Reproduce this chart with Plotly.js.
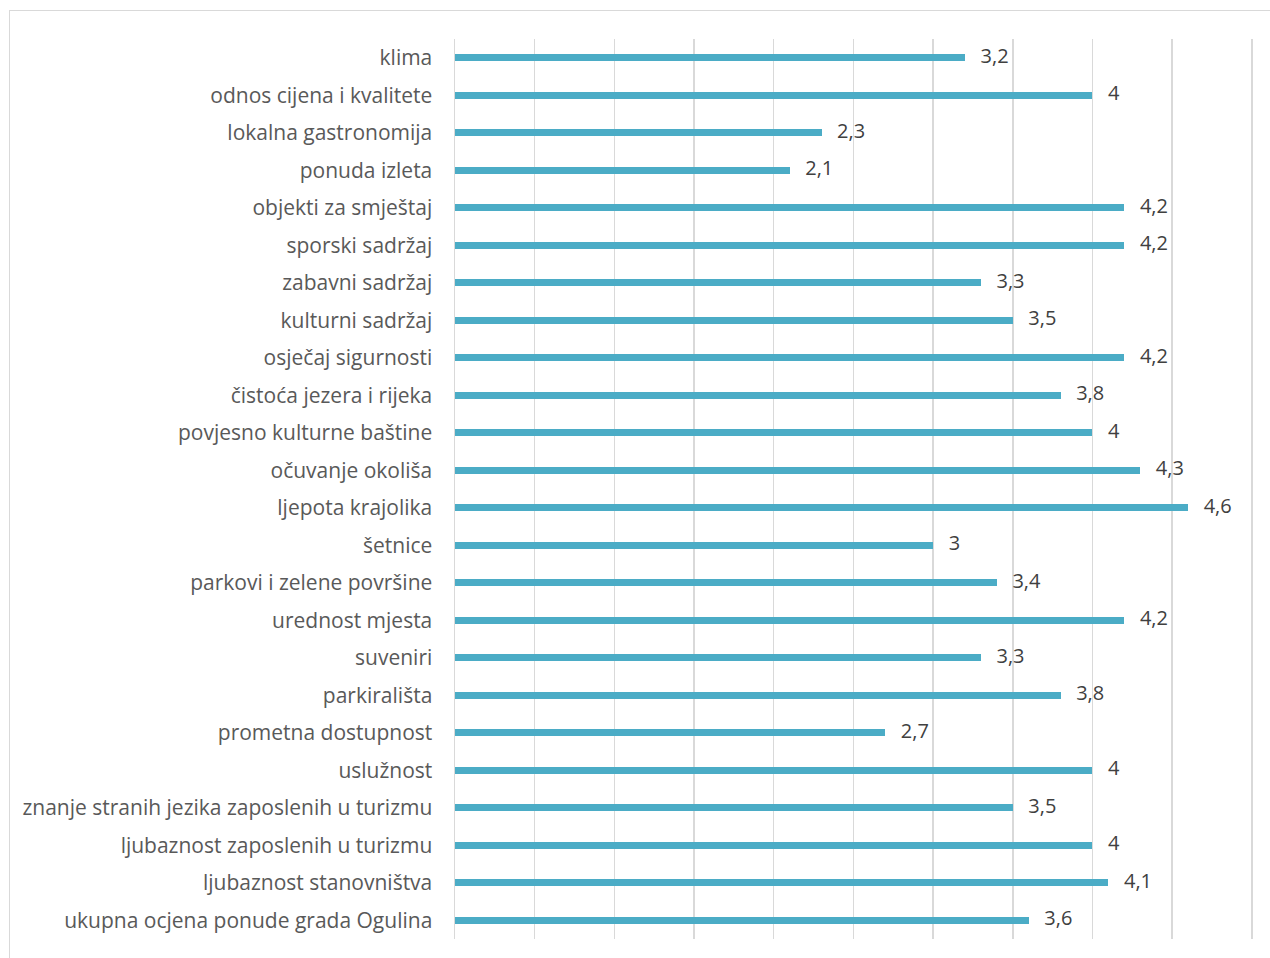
<!DOCTYPE html>
<html>
<head>
<meta charset="utf-8">
<script src="https://cdn.plot.ly/plotly-3.0.1.min.js"></script>
<style>
html,body{margin:0;padding:0;background:#fff;}
#wrap{position:relative;width:1270px;height:958px;}
#chart{width:1270px;height:958px;}
#frame{position:absolute;left:9px;top:10px;width:1270px;height:960px;border:1px solid #d9d9d9;pointer-events:none;}
</style>
</head>
<body>
<div id="wrap"><div id="chart"></div><div id="frame"></div></div>
<script>
const categories = [
  "klima",
  "odnos cijena i kvalitete",
  "lokalna gastronomija",
  "ponuda izleta",
  "objekti za smještaj",
  "sporski sadržaj",
  "zabavni sadržaj",
  "kulturni sadržaj",
  "osječaj sigurnosti",
  "čistoća jezera i rijeka",
  "povjesno kulturne baštine",
  "očuvanje okoliša",
  "ljepota krajolika",
  "šetnice",
  "parkovi i zelene površine",
  "urednost mjesta",
  "suveniri",
  "parkirališta",
  "prometna dostupnost",
  "uslužnost",
  "znanje stranih jezika zaposlenih u turizmu",
  "ljubaznost zaposlenih u turizmu",
  "ljubaznost stanovništva",
  "ukupna ocjena ponude grada Ogulina"
];
const values = [3.2, 4, 2.3, 2.1, 4.2, 4.2, 3.3, 3.5, 4.2, 3.8, 4, 4.3, 4.6, 3, 3.4, 4.2, 3.3, 3.8, 2.7, 4, 3.5, 4, 4.1, 3.6];
const valueLabels = values.map(v => String(v).replace('.', ','));

const bars = {
  type: 'bar',
  orientation: 'h',
  y: categories,
  x: values,
  width: 0.19,
  marker: {color: '#4bacc6'},
  hoverinfo: 'skip'
};
const labels = {
  type: 'scatter',
  mode: 'text',
  y: categories,
  x: values,
  text: valueLabels.map(t => '\u00a0\u00a0\u00a0' + t),
  textposition: 'middle right',
  textfont: {family: 'Open Sans, sans-serif', size: 20, color: '#404040'},
  cliponaxis: false,
  hoverinfo: 'skip'
};

const layout = {
  width: 1270,
  height: 958,
  margin: {l: 455, r: 15, t: 39, b: 19, pad: 0},
  paper_bgcolor: '#ffffff',
  plot_bgcolor: '#ffffff',
  showlegend: false,
  bargap: 0,
  xaxis: {
    range: [0, 5.02],
    dtick: 0.5,
    tick0: 0,
    showticklabels: false,
    showgrid: true,
    gridcolor: '#d9d9d9',
    gridwidth: 1.5,
    zeroline: false,
    showline: false,
    fixedrange: true
  },
  yaxis: {
    type: 'category',
    range: [23.5, -0.5],
    showgrid: false,
    zeroline: false,
    showline: true,
    linecolor: '#d9d9d9',
    linewidth: 1.5,
    ticks: 'outside',
    ticklen: 17,
    tickcolor: 'rgba(0,0,0,0)',
    tickfont: {family: 'Open Sans, sans-serif', size: 21, color: '#595959'},
    fixedrange: true
  },
  font: {family: 'Open Sans, sans-serif'}
};

Plotly.newPlot('chart', [bars, labels], layout, {displayModeBar: false, staticPlot: true});
</script>
</body>
</html>
